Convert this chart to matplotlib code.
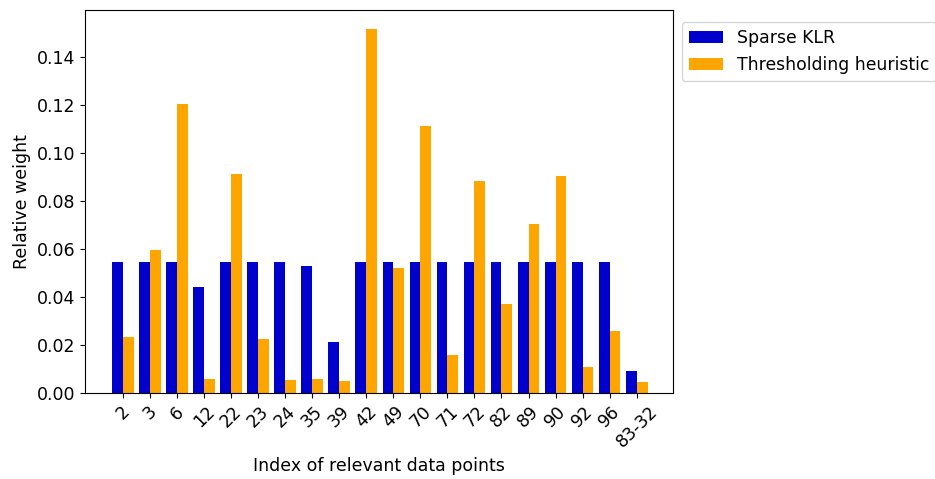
import matplotlib.pyplot as plt
import numpy as np

labels = ['2', '3', '6', '12', '22', '23', '24', '35', '39', '42', '49',
          '70', '71', '72', '82', '89', '90', '92', '96', '83-32']
sparse_klr = [0.0545, 0.0545, 0.0545, 0.0442, 0.0545, 0.0545, 0.0545, 0.0528,
              0.0213, 0.0545, 0.0545, 0.0545, 0.0545, 0.0545, 0.0545, 0.0545,
              0.0545, 0.0545, 0.0545, 0.0090]
threshold = [0.0233, 0.0597, 0.1204, 0.0060, 0.0914, 0.0226, 0.0055, 0.0060,
             0.0051, 0.1519, 0.0522, 0.1111, 0.0158, 0.0885, 0.0373, 0.0703,
             0.0905, 0.0107, 0.0260, 0.0047]

plt.rcParams['font.size'] = 12.5

fig = plt.figure(figsize=(9.35, 4.79), dpi=100)
ax = fig.add_axes([0.091, 0.1795, 0.629, 0.7995])

x = np.arange(len(labels))
w = 0.4
ax.bar(x, sparse_klr, w, align='edge', color='mediumblue', label='Sparse KLR')
ax.bar(x, threshold, w, align='edge', color='orange', label='Thresholding heuristic')
# shift blue bars to the left of the tick
for p in ax.containers[0]:
    p.set_x(p.get_x() - w)

ax.set_xticks(x)
ax.set_xticklabels(labels, rotation=45)
ax.set_xlim(-1.4, 20.35)
ax.set_ylim(0, 0.1596)
ax.set_yticks(np.arange(0, 0.15, 0.02))
ax.set_xlabel('Index of relevant data points')
ax.set_ylabel('Relative weight')
ax.legend(loc='upper left', bbox_to_anchor=(1.0, 0.99), fontsize=12.4)

fig.savefig('out.png', dpi=100)
